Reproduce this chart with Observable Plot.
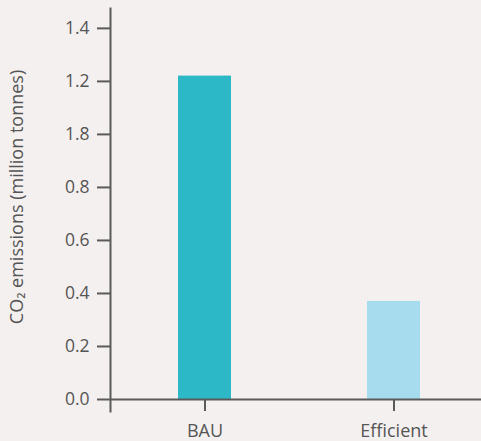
<!DOCTYPE html>
<html>
<head>
<meta charset="utf-8">
<script src="https://cdn.jsdelivr.net/npm/d3@7"></script>
<script src="https://cdn.jsdelivr.net/npm/@observablehq/plot@0.6"></script>
<style>
  html, body { margin: 0; padding: 0; background: #f4f0ef; }
  #chart svg { display: block; }
</style>
</head>
<body>
<div id="chart"></div>
<script>
const categories = ["BAU", "Efficient"];
const values = [1.22, 0.37];
const colors = ["#2db8c7", "#a7dcef"];
const yTickValues = [0, 0.2, 0.4, 0.6, 0.8, 1.0, 1.2, 1.4];
const yTickLabels = ["0.0", "0.2", "0.4", "0.6", "0.8", "1.8", "1.2", "1.4"];
const yLabel = "CO₂ emissions (million tonnes)";

const data = categories.map((c, i) => ({name: c, value: values[i], color: colors[i]}));

const axisColor = "#5a5a5a";
const textColor = "#555";
const font = "'Open Sans', Lato, sans-serif";

const plot = Plot.plot({
  width: 481,
  height: 441,
  marginLeft: 110,
  marginRight: 0,
  marginTop: 8,
  marginBottom: 30,
  style: {background: "#f4f0ef", fontFamily: font, fontSize: "17.5px", color: textColor},
  x: {domain: categories, range: [110, 488], paddingInner: 0.72, paddingOuter: 0.36},
  y: {domain: [0, 1.475], range: [399, 8]},
  color: {type: "identity"},
  marks: [
    Plot.barY(data, {x: "name", y: "value", fill: "color"}),
    Plot.ruleY([0], {stroke: axisColor, strokeWidth: 2}),
    Plot.frame({anchor: "left", stroke: axisColor, strokeWidth: 2}),
    Plot.axisY({
      ticks: yTickValues,
      tickFormat: (d) => yTickLabels[yTickValues.indexOf(d)],
      tickSize: 13,
      tickPadding: 8,
      stroke: axisColor,
      strokeWidth: 2,
      label: null
    }),
    Plot.axisX({
      tickSize: 12,
      tickPadding: 13,
      dy: -12,
      stroke: axisColor,
      strokeWidth: 2,
      fontSize: 18,
      style: {letterSpacing: "0.5px"},
      label: null
    }),
    Plot.text([yLabel], {
      frameAnchor: "left",
      textAnchor: "middle",
      rotate: -90,
      dx: -93,
      dy: -13,
      fontSize: 18,
      fill: textColor,
      style: {letterSpacing: "1.5px"}
    })
  ]
});
document.getElementById("chart").appendChild(plot);
</script>
</body>
</html>
